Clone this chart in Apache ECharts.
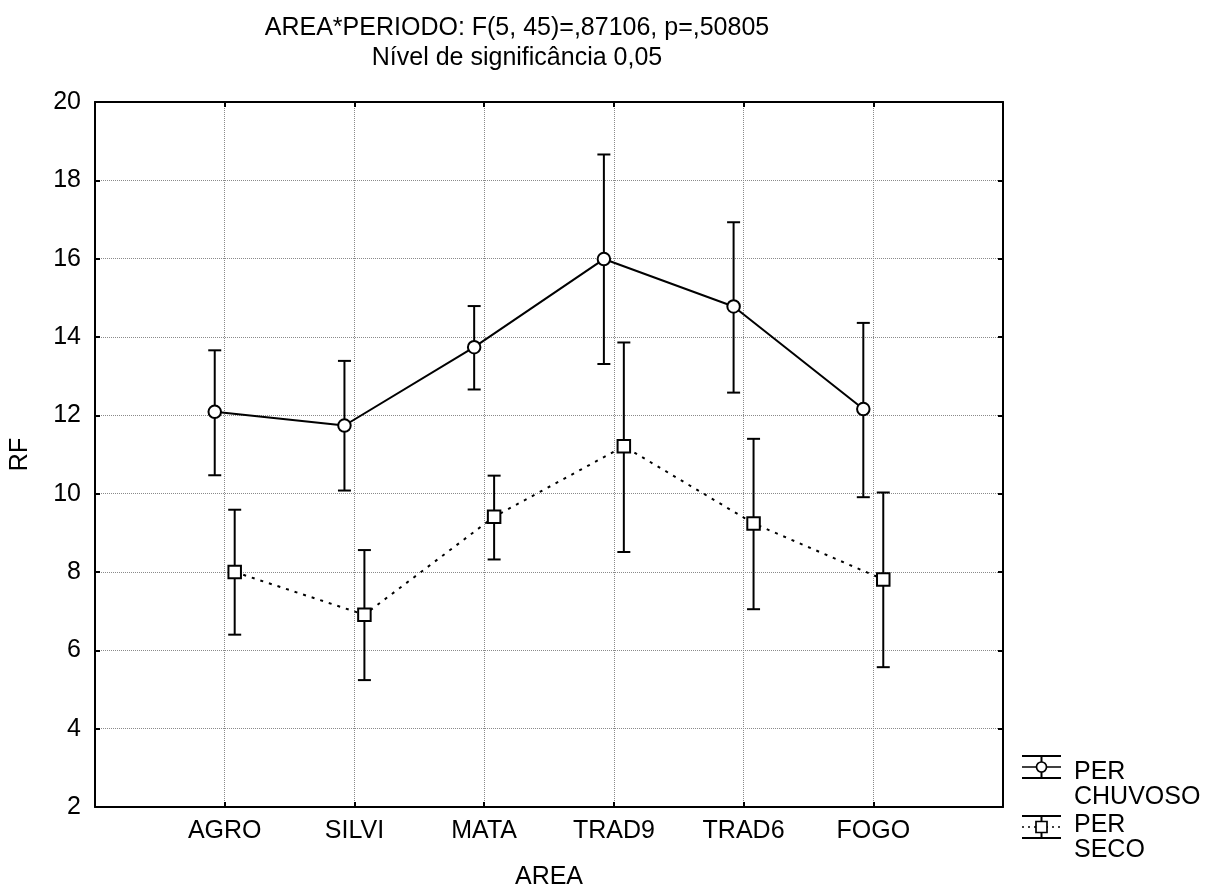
<!DOCTYPE html>
<html>
<head>
<meta charset="utf-8">
<script src="https://cdn.jsdelivr.net/npm/echarts@6/dist/echarts.min.js"></script>
<style>
  html, body { margin: 0; padding: 0; background: #fff; }
  #chart { width: 1205px; height: 895px; }
</style>
</head>
<body>
<div id="chart"></div>
<script>
// categories on the x axis (placed at 1..6 on a 0..7 value axis)
const AREAS = ['AGRO', 'SILVI', 'MATA', 'TRAD9', 'TRAD6', 'FOGO'];
const Y_TICKS = [2, 4, 6, 8, 10, 12, 14, 16, 18, 20];

// PER CHUVOSO: mean and confidence limits
const chuvosoMean = [12.09, 11.74, 13.74, 15.99, 14.78, 12.16];
const chuvosoLow = [10.47, 10.08, 12.66, 13.31, 12.58, 9.91];
const chuvosoHigh = [13.66, 13.39, 14.79, 18.66, 16.93, 14.36];

// PER SECO: mean and confidence limits
const secoMean = [8.00, 6.91, 9.41, 11.21, 9.24, 7.81];
const secoLow = [6.40, 5.24, 8.32, 8.51, 7.05, 5.57];
const secoHigh = [9.59, 8.56, 10.46, 13.86, 11.40, 10.03];

const FONT = "'Liberation Sans', Arial, sans-serif";
const OFFSET = 10 / 130; // horizontal shift of each group around its category

const chart = echarts.init(document.getElementById('chart'));

// build [x, mean] and [x, low, high] rows
const toPoints = (means, shift) => means.map((m, i) => [i + 1 + shift, m]);
const toBars = (lows, highs, shift) => lows.map((l, i) => [i + 1 + shift, l, highs[i]]);

// error bar drawn through the axis scales
function renderErrorBar(params, api) {
  const x = api.value(0);
  const low = api.coord([x, api.value(1)]);
  const high = api.coord([x, api.value(2)]);
  const cap = 6.5;
  const style = {stroke: '#000', lineWidth: 2, fill: null};
  return {
    type: 'group',
    children: [
      {type: 'line', shape: {x1: high[0], y1: high[1], x2: low[0], y2: low[1]}, style: style},
      {type: 'line', shape: {x1: high[0] - cap, y1: high[1], x2: high[0] + cap, y2: high[1]}, style: style},
      {type: 'line', shape: {x1: low[0] - cap, y1: low[1], x2: low[0] + cap, y2: low[1]}, style: style}
    ]
  };
}

const gridLine = {show: true, lineStyle: {color: '#8a8a8a', width: 1, type: [1, 1]}};
const axisLine = {show: true, onZero: false, lineStyle: {color: '#000', width: 2}};
const tick = {show: true, inside: true, length: 5, lineStyle: {color: '#000', width: 2}};
const label = {color: '#000', fontSize: 25, fontFamily: FONT};

// hand-made legend (error bar style symbols)
const legendX = 1022;
function legendItem(y, dashed, marker) {
  const s = {stroke: '#000', lineWidth: 2, fill: null};
  return [
    {type: 'line', shape: {x1: legendX, y1: y - 11, x2: legendX + 39, y2: y - 11}, style: s},
    {type: 'line', shape: {x1: legendX, y1: y + 11, x2: legendX + 39, y2: y + 11}, style: s},
    {type: 'line', shape: {x1: legendX + 19.5, y1: y - 11, x2: legendX + 19.5, y2: y + 11}, style: s},
    {type: 'line', shape: {x1: legendX, y1: y, x2: legendX + 39, y2: y},
      style: {stroke: '#000', lineWidth: 1.7, lineDash: dashed ? [2, 4] : null}},
    marker
  ];
}

const legendText = (y, text) => ({
  type: 'text', left: 1074, top: y,
  style: {text: text, fill: '#000', font: '25px ' + FONT, lineHeight: 25}
});

chart.setOption({
  animation: false,
  textStyle: {fontFamily: FONT},
  title: {
    text: 'AREA*PERIODO: F(5, 45)=,87106, p=,50805\nNível de significância 0,05',
    left: 512,
    top: 8,
    textAlign: 'center',
    textStyle: {fontSize: 25, fontWeight: 'normal', color: '#000', lineHeight: 30, fontFamily: FONT, align: 'center'}
  },
  grid: {left: 95, top: 102, right: 202, bottom: 82},
  xAxis: [
    {
      type: 'value', min: 0, max: 7, interval: 1,
      name: 'AREA', nameLocation: 'middle', nameGap: 58,
      nameTextStyle: label,
      axisLine: axisLine, axisTick: tick, splitLine: gridLine,
      axisLabel: Object.assign({margin: 12, formatter: (v) => AREAS[v - 1] || ''}, label)
    },
    {
      type: 'value', position: 'top', min: 0, max: 7, interval: 1,
      axisLine: axisLine, axisTick: tick, splitLine: {show: false}, axisLabel: {show: false}
    }
  ],
  yAxis: [
    {
      type: 'value', min: Y_TICKS[0], max: Y_TICKS[Y_TICKS.length - 1], interval: 2,
      name: 'RF', nameLocation: 'middle', nameGap: 62, nameRotate: 90,
      nameTextStyle: label,
      axisLine: axisLine, axisTick: tick, splitLine: gridLine,
      axisLabel: Object.assign({margin: 14}, label)
    },
    {
      type: 'value', position: 'right', min: 2, max: 20, interval: 2,
      axisLine: axisLine, axisTick: tick, splitLine: {show: false}, axisLabel: {show: false}
    }
  ],
  series: [
    {
      name: 'PER CHUVOSO bars', type: 'custom', z: 2,
      renderItem: renderErrorBar, data: toBars(chuvosoLow, chuvosoHigh, -OFFSET)
    },
    {
      name: 'PER SECO bars', type: 'custom', z: 2,
      renderItem: renderErrorBar, data: toBars(secoLow, secoHigh, OFFSET)
    },
    {
      name: 'PER CHUVOSO', type: 'line', z: 3,
      data: toPoints(chuvosoMean, -OFFSET),
      symbol: 'circle', symbolSize: 12.5, showAllSymbol: true,
      lineStyle: {color: '#000', width: 2},
      itemStyle: {color: '#fff', borderColor: '#000', borderWidth: 2}
    },
    {
      name: 'PER SECO', type: 'line', z: 3,
      data: toPoints(secoMean, OFFSET),
      symbol: 'rect', symbolSize: 12.5, showAllSymbol: true,
      lineStyle: {color: '#000', width: 2, type: [3, 6]},
      itemStyle: {color: '#fff', borderColor: '#000', borderWidth: 2}
    }
  ],
  graphic: [].concat(
    legendItem(767, false, {type: 'circle', shape: {cx: legendX + 19.5, cy: 767, r: 5},
      style: {fill: '#fff', stroke: '#000', lineWidth: 1.7}}),
    legendItem(827, true, {type: 'rect', shape: {x: legendX + 14, y: 821.5, width: 11, height: 11},
      style: {fill: '#fff', stroke: '#000', lineWidth: 1.7}}),
    [
      legendText(760, 'PER\nCHUVOSO'),
      legendText(813, 'PER\nSECO')
    ]
  )
});
</script>
</body>
</html>
